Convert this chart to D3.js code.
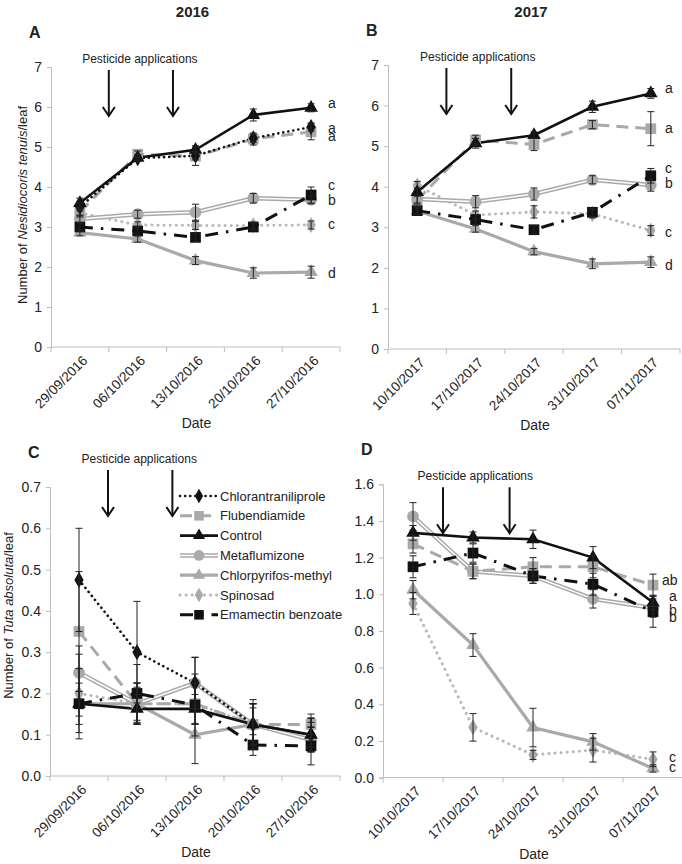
<!DOCTYPE html>
<html>
<head>
<meta charset="utf-8">
<script src="https://cdn.jsdelivr.net/npm/d3@7"></script>
<style>
  body { margin: 0; background: #fff; }
  svg { display: block; font-family: "Liberation Sans", Arial, sans-serif; }
</style>
</head>
<body>
<div id="chart"></div>
<script>
// dates (category axis)
var dates2016 = ["29/09/2016", "06/10/2016", "13/10/2016", "20/10/2016", "27/10/2016"];
var dates2017 = ["10/10/2017", "17/10/2017", "24/10/2017", "31/10/2017", "07/11/2017"];

var treatments = ["Chlorantraniliprole", "Flubendiamide", "Control", "Metaflumizone",
  "Chlorpyrifos-methyl", "Spinosad", "Emamectin benzoate"];

// A: Nesidiocoris tenuis 2016 (mean, se)
var aChlorantraniliprole = [3.5, 4.72, 4.78, 5.22, 5.5];
var aChlorantraniliproleSe = [0.1, 0.08, 0.1, 0.1, 0.1];
var aFlubendiamide = [3.38, 4.82, 4.77, 5.2, 5.38];
var aFlubendiamideSe = [0.1, 0.08, 0.23, 0.15, 0.2];
var aControl = [3.6, 4.73, 4.93, 5.8, 5.98];
var aControlSe = [0.12, 0.08, 0.1, 0.15, 0.1];
var aMetaflumizone = [3.2, 3.32, 3.37, 3.72, 3.68];
var aMetaflumizoneSe = [0.1, 0.1, 0.2, 0.12, 0.1];
var aChlorpyrifos = [2.86, 2.7, 2.16, 1.85, 1.87];
var aChlorpyrifosSe = [0.08, 0.08, 0.1, 0.13, 0.15];
var aSpinosad = [3.35, 3.05, 3.04, 3.04, 3.05];
var aSpinosadSe = [0.1, 0.08, 0.1, 0.08, 0.1];
var aEmamectin = [3.0, 2.9, 2.74, 3.0, 3.8];
var aEmamectinSe = [0.1, 0.1, 0.1, 0.08, 0.2];
var aLetters = ["a", "a", "a", "c", "b", "c", "d"];
var aLetterAt = [6.1, 5.47, 5.27, 4.05, 3.67, 3.07, 1.85];

// B: Nesidiocoris tenuis 2017
var bFlubendiamide = [3.67, 5.15, 5.04, 5.53, 5.43];
var bFlubendiamideSe = [0.1, 0.12, 0.15, 0.1, 0.42];
var bControl = [3.87, 5.07, 5.27, 5.97, 6.3];
var bControlSe = [0.1, 0.12, 0.08, 0.14, 0.12];
var bMetaflumizone = [3.7, 3.63, 3.82, 4.17, 4.04];
var bMetaflumizoneSe = [0.1, 0.15, 0.15, 0.1, 0.15];
var bChlorpyrifos = [3.4, 2.96, 2.4, 2.1, 2.14];
var bChlorpyrifosSe = [0.08, 0.08, 0.08, 0.12, 0.13];
var bSpinosad = [4.03, 3.3, 3.38, 3.33, 2.92];
var bSpinosadSe = [0.1, 0.1, 0.15, 0.1, 0.12];
var bEmamectin = [3.41, 3.19, 2.94, 3.37, 4.27];
var bEmamectinSe = [0.1, 0.12, 0.1, 0.1, 0.18];
var bLetters = ["a", "a", "c", "b", "c", "d"];
var bLetterAt = [6.42, 5.44, 4.45, 4.08, 2.87, 2.07];

// C: Tuta absoluta 2016
var cChlorantraniliprole = [0.475, 0.3, 0.225, 0.125, 0.1];
var cChlorantraniliproleSe = [0.125, 0.123, 0.0625, 0.06, 0.04];
var cFlubendiamide = [0.35, 0.175, 0.175, 0.125, 0.125];
var cFlubendiamideSe = [0.145, 0.05, 0.05, 0.05, 0.025];
var cControl = [0.175, 0.1625, 0.1625, 0.125, 0.1];
var cControlSe = [0.085, 0.035, 0.035, 0.04, 0.04];
var cMetaflumizone = [0.25, 0.175, 0.225, 0.125, 0.0875];
var cMetaflumizoneSe = [0.065, 0.05, 0.0625, 0.05, 0.03];
var cChlorpyrifos = [0.175, 0.175, 0.1, 0.125, 0.1];
var cChlorpyrifosSe = [0.03, 0.04, 0.07, 0.05, 0.04];
var cSpinosad = [0.2, 0.175, 0.175, 0.125, 0.1];
var cSpinosadSe = [0.095, 0.05, 0.05, 0.05, 0.03];
var cEmamectin = [0.175, 0.2, 0.172, 0.075, 0.073];
var cEmamectinSe = [0.05, 0.07, 0.075, 0.025, 0.046];

// D: Tuta absoluta 2017
var dFlubendiamide = [1.275, 1.125, 1.15, 1.15, 1.05];
var dFlubendiamideSe = [0.05, 0.04, 0.05, 0.06, 0.06];
var dControl = [1.335, 1.31, 1.3, 1.2, 0.955];
var dControlSe = [0.04, 0.03, 0.05, 0.06, 0.04];
var dMetaflumizone = [1.425, 1.125, 1.1, 0.975, 0.925];
var dMetaflumizoneSe = [0.075, 0.04, 0.04, 0.05, 0.05];
var dChlorpyrifos = [1.025, 0.723, 0.273, 0.195, 0.05];
var dChlorpyrifosSe = [0.05, 0.062, 0.105, 0.045, 0.02];
var dSpinosad = [0.95, 0.274, 0.124, 0.15, 0.1];
var dSpinosadSe = [0.06, 0.075, 0.025, 0.065, 0.04];
var dEmamectin = [1.15, 1.225, 1.1, 1.055, 0.905];
var dEmamectinSe = [0.06, 0.05, 0.04, 0.06, 0.085];
var dLetters = ["ab", "a", "b", "b", "c", "c"];
var dLetterAt = [1.078, 0.99, 0.914, 0.878, 0.114, 0.06];

var grey = "#a9a9a9";
var styles = {
  "Chlorantraniliprole": { color: "#111", width: 2.6, dash: "0.1 5", cap: "round", sym: d3.symbolDiamond, size: 75 },
  "Flubendiamide": { color: grey, width: 3, dash: "12 7", sym: d3.symbolSquare, size: 115 },
  "Control": { color: "#111", width: 2.6, sym: d3.symbolTriangle, size: 80 },
  "Metaflumizone": { color: grey, width: 4.5, inner: "#fff", sym: d3.symbolCircle, size: 110 },
  "Chlorpyrifos-methyl": { color: grey, width: 3.2, sym: d3.symbolTriangle, size: 80 },
  "Spinosad": { color: "#b8b8b8", width: 3, dash: "0.1 6", cap: "round", sym: d3.symbolDiamond, size: 75 },
  "Emamectin benzoate": { color: "#111", width: 3, dash: "13 8 2.5 8", sym: d3.symbolSquare, size: 115 }
};
// drawing order (back to front)
var order = ["Spinosad", "Metaflumizone", "Chlorpyrifos-methyl", "Flubendiamide",
  "Chlorantraniliprole", "Emamectin benzoate", "Control"];

var panels = [
  { letter: "A", year: "2016", dates: dates2016, ymax: 7, step: 1, fmt: d3.format("d"),
    box: [51, 340, 347, 67], species: "Nesidiocoris tenuis",
    series: { "Chlorantraniliprole": [aChlorantraniliprole, aChlorantraniliproleSe], "Flubendiamide": [aFlubendiamide, aFlubendiamideSe],
      "Control": [aControl, aControlSe], "Metaflumizone": [aMetaflumizone, aMetaflumizoneSe],
      "Chlorpyrifos-methyl": [aChlorpyrifos, aChlorpyrifosSe], "Spinosad": [aSpinosad, aSpinosadSe],
      "Emamectin benzoate": [aEmamectin, aEmamectinSe] },
    letters: aLetters, letterAt: aLetterAt },
  { letter: "B", year: "2017", dates: dates2017, ymax: 7, step: 1, fmt: d3.format("d"),
    box: [388, 680, 349, 65],
    series: { "Flubendiamide": [bFlubendiamide, bFlubendiamideSe], "Control": [bControl, bControlSe],
      "Metaflumizone": [bMetaflumizone, bMetaflumizoneSe], "Chlorpyrifos-methyl": [bChlorpyrifos, bChlorpyrifosSe],
      "Spinosad": [bSpinosad, bSpinosadSe], "Emamectin benzoate": [bEmamectin, bEmamectinSe] },
    letters: bLetters, letterAt: bLetterAt },
  { letter: "C", dates: dates2016, ymax: 0.7, step: 0.1, fmt: d3.format(".1f"),
    box: [50, 340, 776, 487], species: "Tuta absoluta", legend: true,
    series: { "Chlorantraniliprole": [cChlorantraniliprole, cChlorantraniliproleSe], "Flubendiamide": [cFlubendiamide, cFlubendiamideSe],
      "Control": [cControl, cControlSe], "Metaflumizone": [cMetaflumizone, cMetaflumizoneSe],
      "Chlorpyrifos-methyl": [cChlorpyrifos, cChlorpyrifosSe], "Spinosad": [cSpinosad, cSpinosadSe],
      "Emamectin benzoate": [cEmamectin, cEmamectinSe] } },
  { letter: "D", dates: dates2017, ymax: 1.6, step: 0.2, fmt: d3.format(".1f"),
    box: [383, 683, 777.6, 484.3],
    series: { "Flubendiamide": [dFlubendiamide, dFlubendiamideSe], "Control": [dControl, dControlSe],
      "Metaflumizone": [dMetaflumizone, dMetaflumizoneSe], "Chlorpyrifos-methyl": [dChlorpyrifos, dChlorpyrifosSe],
      "Spinosad": [dSpinosad, dSpinosadSe], "Emamectin benzoate": [dEmamectin, dEmamectinSe] },
    letters: dLetters, letterAt: dLetterAt }
];

var svg = d3.select("#chart").append("svg")
  .attr("width", 682)
  .attr("height", 864);

panels.forEach(drawPanel);

function drawPanel(p) {
  var g = svg.append("g");
  var x = d3.scaleBand().domain(p.dates).range([p.box[0], p.box[1]]);
  var y = d3.scaleLinear().domain([0, p.ymax]).range([p.box[2], p.box[3]]);
  var cx = function (i) { return x(p.dates[i]) + x.bandwidth() / 2; };
  var top = p.box[3];

  // year heading and panel letter
  if (p.year) {
    g.append("text").attr("x", (p.box[0] + p.box[1]) / 2 - 3).attr("y", 17)
      .attr("text-anchor", "middle").attr("font-size", 15).attr("font-weight", "bold")
      .attr("fill", "#222").text(p.year);
  }
  g.append("text").attr("x", p.box[0] - 22).attr("y", top - 29)
    .attr("font-size", 16).attr("font-weight", "bold").attr("fill", "#222").text(p.letter);

  // y axis
  var ticks = d3.range(0, p.ymax + p.step / 2, p.step);
  var yAxis = g.append("g")
    .attr("transform", "translate(" + p.box[0] + ",0)")
    .call(d3.axisLeft(y).tickValues(ticks).tickFormat(p.fmt).tickSize(4).tickPadding(5));
  yAxis.select(".domain").attr("stroke", "#bdbdbd");
  yAxis.selectAll(".tick line").attr("stroke", "#bdbdbd");
  yAxis.selectAll(".tick text").attr("font-size", 14).attr("fill", "#222")
    .attr("font-family", "Liberation Sans, Arial, sans-serif");

  // x axis (category boundaries)
  var xa = g.append("g");
  xa.append("line").attr("x1", p.box[0]).attr("x2", p.box[1])
    .attr("y1", p.box[2]).attr("y2", p.box[2]).attr("stroke", "#bdbdbd");
  var bounds = p.dates.map(function (d) { return x(d); }).concat([p.box[1]]);
  xa.selectAll("line.b").data(bounds).enter().append("line")
    .attr("x1", function (d) { return d; }).attr("x2", function (d) { return d; })
    .attr("y1", p.box[2]).attr("y2", p.box[2] + 5).attr("stroke", "#bdbdbd");
  xa.selectAll("text").data(p.dates).enter().append("text")
    .attr("transform", function (d, i) {
      return "translate(" + (cx(i) + 5) + "," + (p.box[2] + 11) + ") rotate(-45)";
    })
    .attr("text-anchor", "end").attr("dy", "0.35em")
    .attr("font-size", 13.5).attr("fill", "#222").text(function (d) { return d; });
  g.append("text").attr("x", (p.box[0] + p.box[1]) / 2 + 1).attr("y", p.box[2] + 81)
    .attr("text-anchor", "middle").attr("font-size", 14).attr("fill", "#222").text("Date");

  // y label (left panels only)
  if (p.species) {
    var mid = (p.box[2] + p.box[3]) / 2;
    var lx = p.box[0] - 29 - (p.legend ? 13 : 0);
    var ly = mid + (p.legend ? -16 : -2);
    var t = g.append("text")
      .attr("transform", "translate(" + lx + "," + ly + ") rotate(-90)")
      .attr("text-anchor", "middle").attr("dy", "0.35em")
      .attr("font-size", 13).attr("fill", "#222");
    t.append("tspan").text("Number of ");
    t.append("tspan").attr("font-style", "italic").text(p.species);
    t.append("tspan").text("/leaf");
  }

  // pesticide applications
  var arrowX = [x(p.dates[1]), x(p.dates[2]) + x.bandwidth() * 0.11];
  var textY = top - 4 + (p.legend ? -20 : 0);
  g.append("text").attr("x", (arrowX[0] + arrowX[1]) / 2 - 1).attr("y", textY)
    .attr("text-anchor", "middle").attr("font-size", 12).attr("fill", "#222")
    .text("Pesticide applications");
  arrowX.forEach(function (ax) {
    var y0 = textY + 7, y1 = textY + 53;
    g.append("line").attr("x1", ax).attr("x2", ax).attr("y1", y0).attr("y2", y1)
      .attr("stroke", "#111").attr("stroke-width", 2);
    g.append("path").attr("d", "M" + (ax - 6) + "," + (y1 - 9) + "L" + ax + "," + y1 + "L" + (ax + 6) + "," + (y1 - 9))
      .attr("fill", "none").attr("stroke", "#111").attr("stroke-width", 2);
  });

  var names = order.filter(function (n) { return p.series[n]; });
  var line = d3.line().x(function (d, i) { return cx(i); }).y(function (d) { return y(d); });

  // lines
  names.forEach(function (n) {
    var s = styles[n], vals = p.series[n][0];
    drawLine(g, line(vals), s);
  });
  // markers
  names.forEach(function (n) {
    var s = styles[n], vals = p.series[n][0];
    g.selectAll(null).data(vals).enter().append("path")
      .attr("transform", function (d, i) { return "translate(" + cx(i) + "," + y(d) + ")"; })
      .attr("d", d3.symbol().type(s.sym).size(s.size))
      .attr("fill", s.color === "#b8b8b8" ? grey : s.color);
  });
  // error bars
  names.forEach(function (n) {
    var vals = p.series[n][0], se = p.series[n][1];
    vals.forEach(function (v, i) {
      var px = cx(i), lo = y(Math.max(0, v - se[i])), hi = y(v + se[i]);
      g.append("path")
        .attr("d", "M" + px + "," + lo + "V" + hi + "M" + (px - 3.5) + "," + lo + "H" + (px + 3.5) +
          "M" + (px - 3.5) + "," + hi + "H" + (px + 3.5))
        .attr("stroke", "#222").attr("stroke-width", 1).attr("fill", "none");
    });
  });

  // significance letters
  if (p.letters) {
    g.selectAll("text.sig").data(p.letters).enter().append("text")
      .attr("x", p.box[1] - 12 + (p.letter === "D" ? -9 : 0))
      .attr("y", function (d, i) { return y(p.letterAt[i]); })
      .attr("dy", "0.35em").attr("font-size", 14).attr("fill", "#222")
      .attr("x", function (d) {
        return (p.letter === "A" ? 328 : (d === "ab" ? p.box[1] - 21 : p.box[1] - 15 + (p.letter === "D" ? 1 : 0)));
      })
      .text(function (d) { return d; });
  }

  // legend
  if (p.legend) {
    treatments.forEach(function (n, i) {
      var s = styles[n], ly = 496 + i * 19.8;
      drawLine(g, "M180," + ly + "H218", s);
      g.append("path").attr("transform", "translate(199," + ly + ")")
        .attr("d", d3.symbol().type(s.sym).size(s.size * 0.8))
        .attr("fill", s.color === "#b8b8b8" ? grey : s.color);
      g.append("text").attr("x", 220).attr("y", ly).attr("dy", "0.35em")
        .attr("font-size", 13).attr("fill", "#222").text(n);
    });
  }
}

function drawLine(g, d, s) {
  g.append("path").attr("d", d).attr("fill", "none")
    .attr("stroke", s.color).attr("stroke-width", s.width)
    .attr("stroke-dasharray", s.dash || null)
    .attr("stroke-linecap", s.cap || "butt");
  if (s.inner) {
    g.append("path").attr("d", d).attr("fill", "none")
      .attr("stroke", s.inner).attr("stroke-width", 1.5);
  }
}
</script>
</body>
</html>
